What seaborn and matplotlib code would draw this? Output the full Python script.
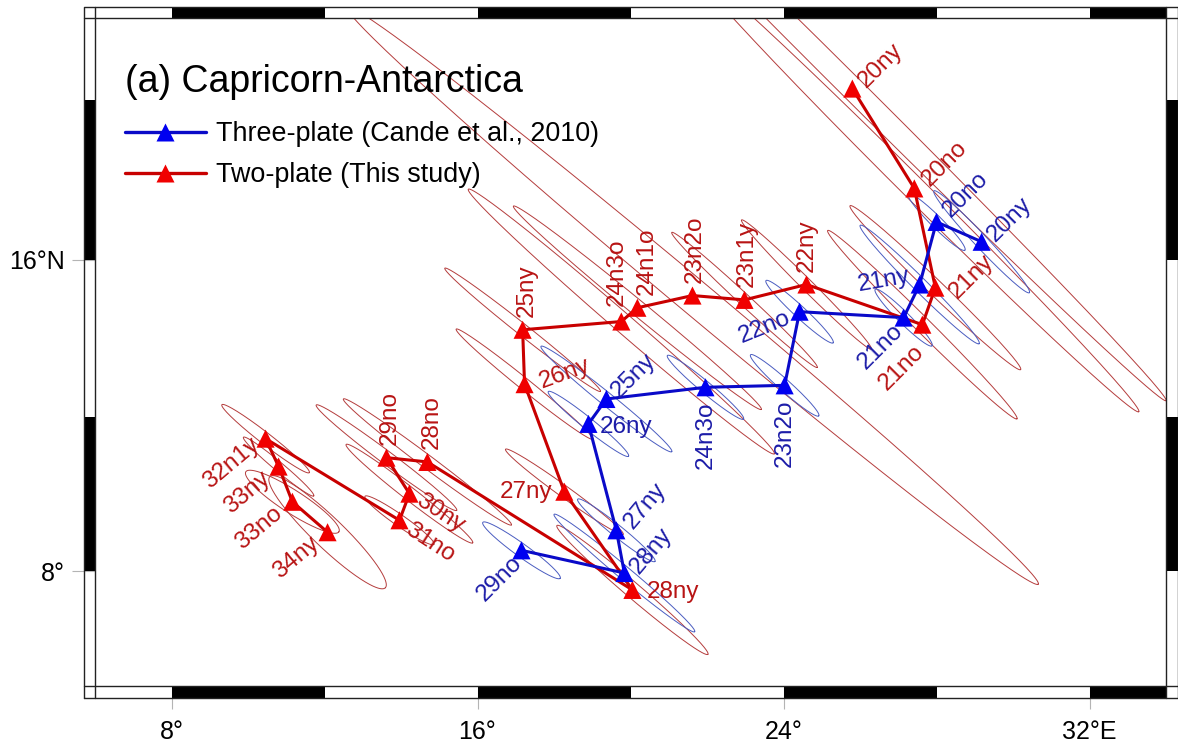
import numpy as np
import matplotlib
matplotlib.use("Agg")
import matplotlib.pyplot as plt
import seaborn as sns
import pandas as pd
from matplotlib.lines import Line2D
from matplotlib.patches import Rectangle
from matplotlib import transforms

# ---------------- data ----------------
two_chrons = ["20ny", "20no", "21ny", "21no", "22ny", "23n1y", "23n2o", "24n1o", "24n3o",
              "25ny", "26ny", "27ny", "28ny", "28no", "29no", "30ny", "31no", "32n1y",
              "33ny", "33no", "34ny"]
two_lon = [25.80, 27.42, 27.97, 27.63, 24.60, 22.98, 21.62, 20.18, 19.76,
           17.18, 17.23, 18.27, 20.05, 14.69, 13.62, 14.22, 13.96, 10.46,
           10.80, 11.16, 12.08]
two_lat = [20.27, 17.79, 15.29, 14.35, 15.37, 14.98, 15.09, 14.78, 14.43,
           14.22, 12.83, 10.06, 7.51, 10.83, 10.94, 10.01, 9.32, 11.43,
           10.71, 9.80, 9.01]
# error ellipses: semi-major / semi-minor axis (deg) and azimuth of major axis (deg)
two_major = [11.6, 8.3, 3.1, 3.5, 2.4, 2.6, 11.8, 4.2, 5.3,
             2.6, 2.3, 1.9, 2.6, 2.75, 2.3, 2.1, 1.1, 1.45,
             1.2, 1.45, 2.1]
two_minor = [0.30, 0.30, 0.20, 0.20, 0.15, 0.15, 0.45, 0.20, 0.25,
             0.15, 0.15, 0.15, 0.20, 0.17, 0.17, 0.17, 0.15, 0.15,
             0.12, 0.30, 0.40]
two_azim = [135, 135, 134, 135, 135, 133, 130, 129.5, 131,
            128.5, 129, 126, 130.6, 127, 127, 128, 125, 128,
            130, 123, 134]

three_chrons = ["20ny", "20no", "21ny", "21no", "22no", "23n2o", "24n3o", "25ny",
                "26ny", "27ny", "28ny", "29no"]
three_lon = [29.18, 28.00, 27.56, 27.14, 24.42, 24.03, 21.96, 19.37,
             18.90, 19.63, 19.84, 17.15]
three_lat = [16.45, 16.95, 15.37, 14.53, 14.68, 12.80, 12.75, 12.45,
             11.81, 9.06, 7.95, 8.54]
three_major = [1.83, 1.05, 2.2, 1.05, 1.2, 1.2, 1.3, 2.2, 1.35, 1.3, 2.4, 1.25]
three_minor = [0.17, 0.15, 0.18, 0.15, 0.15, 0.15, 0.15, 0.17, 0.15, 0.15, 0.17, 0.17]
three_azim = [137, 135, 135, 135, 133, 132, 130, 129, 129, 129, 130, 126]

lon_ticks = [8, 16, 24, 32]
lon_ticklabels = ["8°", "16°", "24°", "32°E"]
lat_ticks = [8, 16]
lat_ticklabels = ["8°", "16°N"]
title = "(a) Capricorn-Antarctica"
legend_labels = ["Three-plate (Cande et al., 2010)", "Two-plate (This study)"]

# ---------------- label layout (offset px, rotation, ha) ----------------
two_label_layout = {
    "20ny": (10, 4, 45, "left"), "20no": (11, 6, 45, "left"), "21ny": (18, -8, 45, "left"),
    "21no": (-2, -24, 45, "right"), "22ny": (0, 13, 90, "left"), "23n1y": (2, 13, 90, "left"),
    "23n2o": (2, 13, 90, "left"), "24n1o": (9, 13, 90, "left"), "24n3o": (-5, 16, 90, "left"),
    "25ny": (4, 13, 90, "left"), "26ny": (15, 2, 20, "left"), "27ny": (-12, 0, 0, "right"),
    "28ny": (14, -2, 0, "left"), "28no": (4, 13, 90, "left"), "29no": (3, 13, 90, "left"),
    "30ny": (9, -5, -33, "left"), "31no": (8, -8, -33, "left"), "32n1y": (-9, -3, 40, "right"),
    "33ny": (-11, -9, 40, "right"), "33no": (-13, -9, 40, "right"), "34ny": (-11, -9, 40, "right"),
}
three_label_layout = {
    "20ny": (9, 4, 45, "left"), "20no": (10, 8, 45, "left"), "21ny": (-10, 8, 10, "right"),
    "21no": (-4, -10, 45, "right"), "22no": (-10, -6, 22, "right"), "23n2o": (0, -14, 90, "right"),
    "24n3o": (0, -14, 90, "right"), "25ny": (9, 5, 45, "left"), "26ny": (11, -3, 0, "left"),
    "27ny": (12, 4, 50, "left"), "28ny": (10, 2, 50, "left"), "29no": (-3, -9, 45, "right"),
}

# ---------------- style ----------------
sns.set_style("white")
plt.rcParams["font.family"] = ["Liberation Sans", "DejaVu Sans"]
plt.rcParams["text.color"] = "black"
plt.rcParams["xtick.labelcolor"] = "black"
plt.rcParams["ytick.labelcolor"] = "black"

RED_LINE = "#c80000"
RED_MARK = "#f00000"
RED_TEXT = "#b81414"
RED_ELL = "#b43c3c"
BLUE_LINE = "#0a0ac8"
BLUE_MARK = "#0000f0"
BLUE_TEXT = "#1c1ca8"
BLUE_ELL = "#4a5cc0"

W, H = 1178, 752
fig = plt.figure(figsize=(W / 100, H / 100), dpi=100)
L, R, T, B = 95, 1166, 18, 686
ax = fig.add_axes([L / W, 1 - B / H, (R - L) / W, (B - T) / H])


def merc_fwd(lat):
    lat = np.clip(np.asarray(lat, dtype=float), -85, 85)
    return np.degrees(np.log(np.tan(np.pi / 4 + np.radians(lat) / 2)))


def merc_inv(y):
    y = np.asarray(y, dtype=float)
    return np.degrees(2 * np.arctan(np.exp(np.radians(y))) - np.pi / 2)


ax.set_yscale("function", functions=(merc_fwd, merc_inv))
ax.set_xlim(6, 34)
ax.set_ylim(5, 22)


def ellipse_pts(lon0, lat0, a, b, az, n=360):
    t = np.linspace(0, 2 * np.pi, n)
    u, v = a * np.cos(t), b * np.sin(t)
    azr = np.radians(az)
    x = lon0 + u * np.sin(azr) + v * np.cos(azr)
    m = merc_fwd(lat0) + u * np.cos(azr) - v * np.sin(azr)
    return x, merc_inv(m)


for lo, la, a, b, az in zip(two_lon, two_lat, two_major, two_minor, two_azim):
    ex, ey = ellipse_pts(lo, la, a, b, az)
    ax.plot(ex, ey, color=RED_ELL, lw=0.7, zorder=2)
for lo, la, a, b, az in zip(three_lon, three_lat, three_major, three_minor, three_azim):
    ex, ey = ellipse_pts(lo, la, a, b, az)
    ax.plot(ex, ey, color=BLUE_ELL, lw=0.7, zorder=2)

df_two = pd.DataFrame({"lon": two_lon, "lat": two_lat, "chron": two_chrons})
df_three = pd.DataFrame({"lon": three_lon, "lat": three_lat, "chron": three_chrons})

sns.lineplot(data=df_two, x="lon", y="lat", sort=False, estimator=None, color=RED_LINE,
             lw=2.2, ax=ax, zorder=4)
sns.scatterplot(data=df_two, x="lon", y="lat", marker="^", s=170, color=RED_MARK,
                edgecolor="none", ax=ax, zorder=5)
sns.lineplot(data=df_three, x="lon", y="lat", sort=False, estimator=None, color=BLUE_LINE,
             lw=2.2, ax=ax, zorder=6)
sns.scatterplot(data=df_three, x="lon", y="lat", marker="^", s=170, color=BLUE_MARK,
                edgecolor="none", ax=ax, zorder=7)

for lo, la, ch in zip(two_lon, two_lat, two_chrons):
    dx, dy, rot, ha = two_label_layout[ch]
    ax.annotate(ch, (lo, la), xytext=(dx * 0.72, dy * 0.72), textcoords="offset points",
                rotation=rot, rotation_mode="anchor", ha=ha, va="center",
                fontsize=17.5, color=RED_TEXT, zorder=8)
for lo, la, ch in zip(three_lon, three_lat, three_chrons):
    dx, dy, rot, ha = three_label_layout[ch]
    ax.annotate(ch, (lo, la), xytext=(dx * 0.72, dy * 0.72), textcoords="offset points",
                rotation=rot, rotation_mode="anchor", ha=ha, va="center",
                fontsize=17.5, color=BLUE_TEXT, zorder=8)

# ---------------- axes / ticks ----------------
ax.set_xlim(6, 34)
ax.set_ylim(5, 22)
ax.set_xlabel("")
ax.set_ylabel("")
ax.set_xticks(lon_ticks)
ax.set_xticklabels(lon_ticklabels)
ax.set_yticks(lat_ticks)
ax.set_yticklabels(lat_ticklabels)
ax.yaxis.set_minor_locator(matplotlib.ticker.NullLocator())
ax.tick_params(axis="both", direction="out", length=16.6, width=0.8, color="#b4b4b4",
               labelsize=18, labelcolor="black", bottom=True, left=True)
ax.tick_params(axis="x", pad=8)
ax.tick_params(axis="y", pad=5)
for sp in ax.spines.values():
    sp.set_visible(False)

# ---------------- GMT style checkerboard frame ----------------
bx = 11.5 / (R - L)
by = 11.5 / (B - T)
tx = transforms.blended_transform_factory(ax.transData, ax.transAxes)
ty = transforms.blended_transform_factory(ax.transAxes, ax.transData)
for k, x0 in enumerate(range(8, 34, 4)):
    if k % 2 == 0:
        x1 = min(x0 + 4, 34)
        for y0 in (1.0, -by):
            ax.add_patch(Rectangle((x0, y0), x1 - x0, by, transform=tx, facecolor="black",
                                   edgecolor="none", clip_on=False, zorder=10))
for k, y0 in enumerate(range(8, 22, 4)):
    if k % 2 == 0:
        y1 = min(y0 + 4, 22)
        for xx in (1.0, -bx):
            ax.add_patch(Rectangle((xx, y0), bx, y1 - y0, transform=ty, facecolor="black",
                                   edgecolor="none", clip_on=False, zorder=10))
fkw = dict(transform=ax.transAxes, color="#222222", lw=1.0, clip_on=False, zorder=11)
ax.add_line(Line2D([-bx, 1 + bx, 1 + bx, -bx, -bx], [-by, -by, 1 + by, 1 + by, -by], **fkw))
for xx in (0, 1):
    ax.add_line(Line2D([xx, xx], [-by, 1 + by], **fkw))
for yy in (0, 1):
    ax.add_line(Line2D([-bx, 1 + bx], [yy, yy], **fkw))

# ---------------- title & legend ----------------
ax.text((125 - L) / (R - L), 1 - (92 - T) / (B - T), title, transform=ax.transAxes,
        fontsize=27, ha="left", va="baseline", color="black", zorder=12)
handles = [
    Line2D([], [], color=BLUE_LINE, lw=2.4, marker="^", markersize=13,
           markerfacecolor=BLUE_MARK, markeredgecolor="none"),
    Line2D([], [], color=RED_LINE, lw=2.4, marker="^", markersize=13,
           markerfacecolor=RED_MARK, markeredgecolor="none"),
]
leg = ax.legend(handles, legend_labels, loc="upper left",
                bbox_to_anchor=((125 - L) / (R - L), 1 - (121 - T) / (B - T)),
                frameon=False, fontsize=19.4, handlelength=3.0, handletextpad=0.36,
                labelspacing=0.56, borderpad=0, borderaxespad=0)
for txt in leg.get_texts():
    txt.set_color("black")
leg.set_zorder(12)

fig.savefig("out.png", dpi=100)
